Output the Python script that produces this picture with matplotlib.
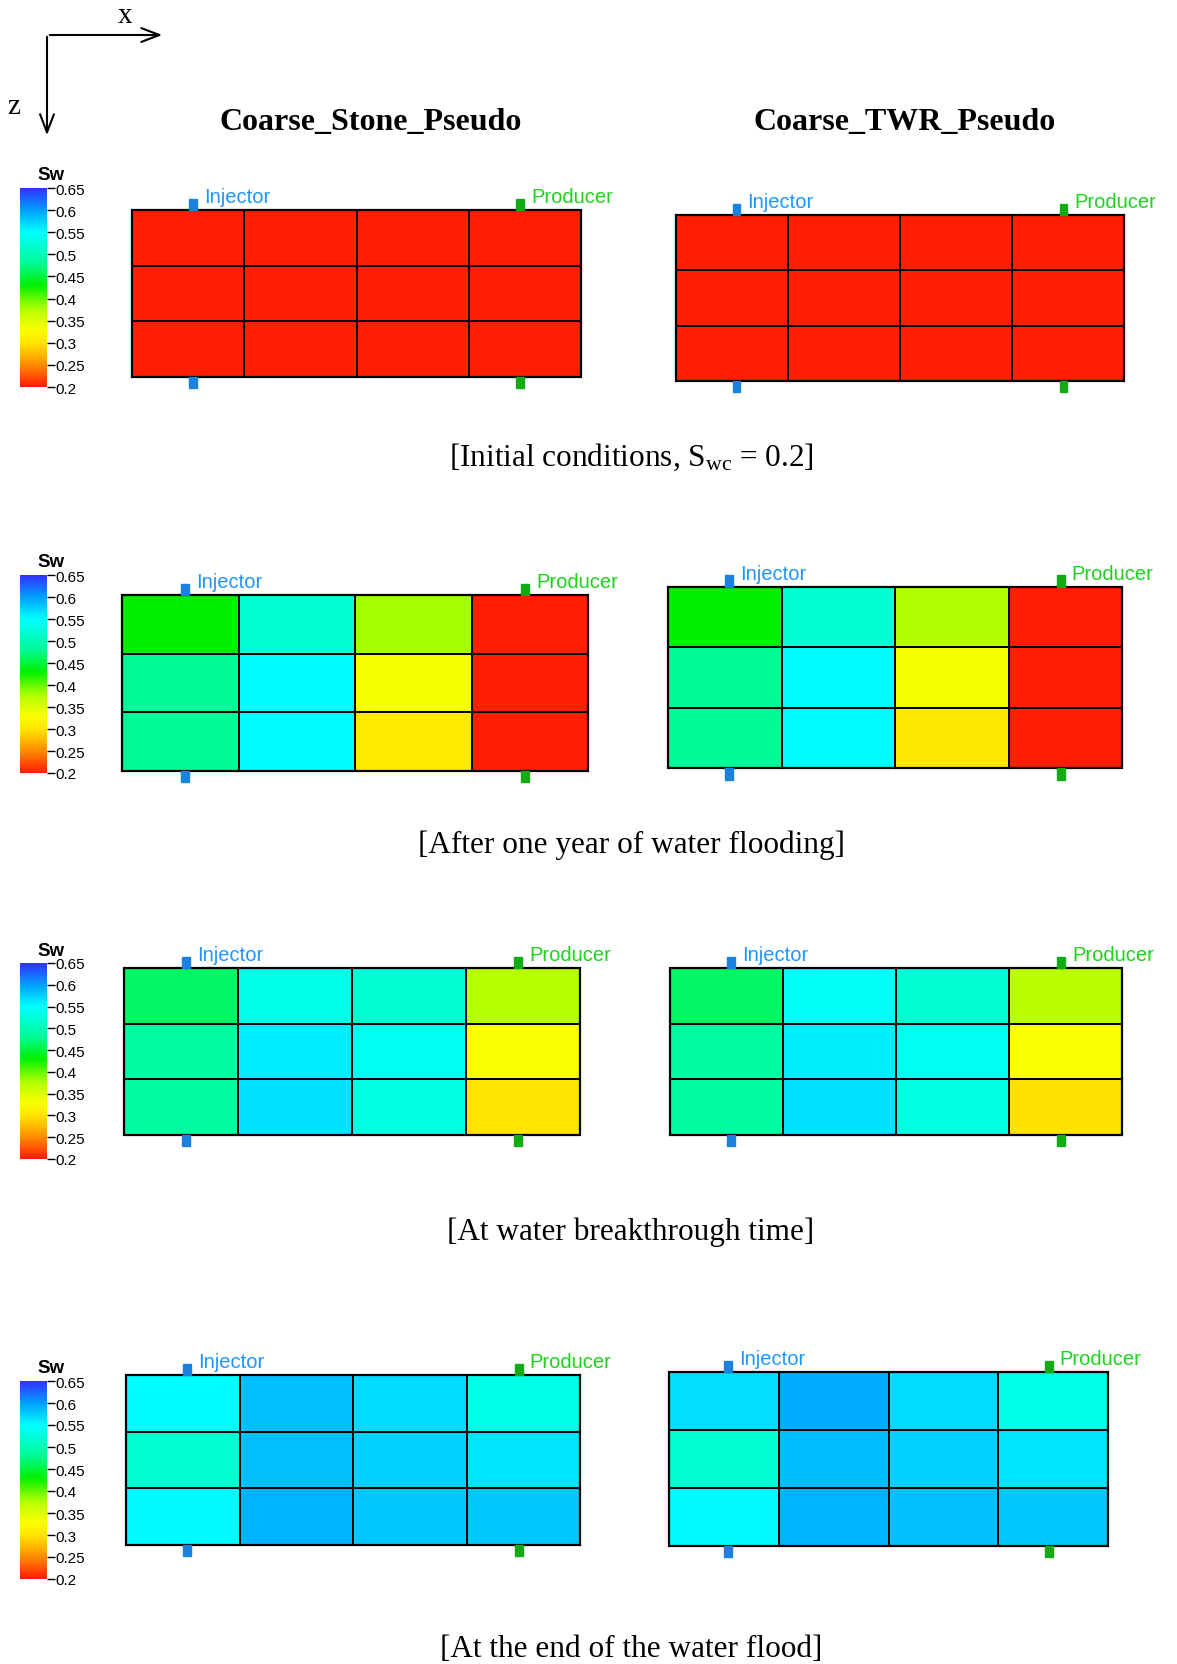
import numpy as np
import matplotlib
matplotlib.use("Agg")
import matplotlib.pyplot as plt
import matplotlib.transforms as mtransforms
from matplotlib.colors import LinearSegmentedColormap, Normalize
from matplotlib.cm import ScalarMappable
from matplotlib.patches import Rectangle

plt.rcParams['mathtext.fontset'] = 'custom'
plt.rcParams['mathtext.rm'] = 'Liberation Serif'

# ---- data: water saturation per cell (3 layers x 4 columns) ----
models = ["Coarse_Stone_Pseudo", "Coarse_TWR_Pseudo"]
stages = [r"[Initial conditions, $\mathrm{S_{wc}}$ = 0.2]",
          "[After one year of water flooding]",
          "[At water breakthrough time]",
          "[At the end of the water flood]"]

stone_initial = [[0.20, 0.20, 0.20, 0.20],
                 [0.20, 0.20, 0.20, 0.20],
                 [0.20, 0.20, 0.20, 0.20]]
twr_initial = [[0.20, 0.20, 0.20, 0.20],
               [0.20, 0.20, 0.20, 0.20],
               [0.20, 0.20, 0.20, 0.20]]

stone_year1 = [[0.430, 0.520, 0.380, 0.20],
               [0.480, 0.550, 0.335, 0.20],
               [0.480, 0.550, 0.305, 0.20]]
twr_year1 = [[0.430, 0.520, 0.377, 0.20],
             [0.480, 0.550, 0.335, 0.20],
             [0.480, 0.550, 0.302, 0.20]]

stone_breakthrough = [[0.463, 0.533, 0.520, 0.373],
                      [0.487, 0.560, 0.540, 0.330],
                      [0.487, 0.564, 0.530, 0.300]]
twr_breakthrough = [[0.463, 0.545, 0.520, 0.372],
                    [0.487, 0.558, 0.540, 0.330],
                    [0.487, 0.564, 0.530, 0.297]]

stone_end = [[0.550, 0.582, 0.568, 0.533],
             [0.520, 0.582, 0.574, 0.563],
             [0.553, 0.590, 0.579, 0.579]]
twr_end = [[0.566, 0.592, 0.568, 0.533],
           [0.520, 0.584, 0.574, 0.563],
           [0.553, 0.590, 0.582, 0.579]]

stone_maps = [stone_initial, stone_year1, stone_breakthrough, stone_end]
twr_maps = [twr_initial, twr_year1, twr_breakthrough, twr_end]

cbar_ticks = [0.2, 0.25, 0.3, 0.35, 0.4, 0.45, 0.5, 0.55, 0.6, 0.65]
cbar_labels = ["0.2", "0.25", "0.3", "0.35", "0.4", "0.45", "0.5", "0.55", "0.6", "0.65"]
well_names = ["Injector", "Producer"]
well_cols = [0.54, 3.46]   # well x positions in grid units

# tecplot-like rainbow
vmin, vmax = 0.2, 0.65
anchors = [(0.20, (255, 30, 0)), (0.25, (255, 140, 0)), (0.30, (255, 230, 0)),
           (0.33, (250, 255, 0)), (0.375, (180, 255, 0)), (0.43, (0, 240, 0)),
           (0.48, (0, 250, 150)), (0.55, (0, 255, 255)), (0.60, (0, 160, 255)),
           (0.65, (50, 50, 255))]
cmap = LinearSegmentedColormap.from_list(
    "sw", [((v - vmin) / (vmax - vmin), tuple(c / 255 for c in rgb)) for v, rgb in anchors])
norm = Normalize(vmin, vmax)

W, H = 1177, 1665
fig = plt.figure(figsize=(W / 100, H / 100), dpi=100)


def px_axes(x0, y0, x1, y1):
    return fig.add_axes([x0 / W, 1 - y1 / H, (x1 - x0) / W, (y1 - y0) / H])


# layout in pixels (top-left origin)
stone_boxes = [(132, 211, 581, 378), (122, 596, 588, 772), (124, 969, 580, 1136), (126, 1376, 580, 1546)]
twr_boxes = [(676, 216, 1124, 382), (668, 588, 1122, 769), (670, 969, 1122, 1136), (669, 1373, 1108, 1547)]
cbar_boxes = [(20, 189, 47, 388), (20, 576, 47, 774), (20, 964, 47, 1160), (20, 1382, 47, 1580)]
caption_y = [457, 845, 1232, 1650]

well_colors = ["#1a82dc", "#14aa14"]
label_colors = ["#1e96ff", "#1ed21e"]


def draw_grid(ax, sw):
    sw = np.array(sw)
    ax.pcolormesh(np.arange(5), np.arange(4), sw, cmap=cmap, norm=norm,
                  edgecolors="k", linewidth=1.3)
    ax.set_xlim(0, 4)
    ax.set_ylim(3, 0)
    ax.axis("off")
    ax.add_patch(Rectangle((0, 0), 4, 3, fill=False, ec="k", lw=1.6, clip_on=False))
    tr = mtransforms.blended_transform_factory(ax.transData, ax.transAxes)
    for name, xc, wc, lc in zip(well_names, well_cols, well_colors, label_colors):
        ax.add_patch(Rectangle((xc - 0.035, 1.0), 0.07, 0.065, transform=tr,
                               color=wc, clip_on=False, zorder=3))
        ax.add_patch(Rectangle((xc - 0.035, -0.065), 0.07, 0.065, transform=tr,
                               color=wc, clip_on=False, zorder=3))
        ax.annotate(name, xy=(xc, 1.0), xycoords=tr, xytext=(8, 3),
                    textcoords="offset points", ha="left", va="bottom",
                    color=lc, fontsize=14.5, family="Liberation Sans")


for i in range(4):
    draw_grid(px_axes(*stone_boxes[i]), stone_maps[i])
    draw_grid(px_axes(*twr_boxes[i]), twr_maps[i])

    cax = px_axes(*cbar_boxes[i])
    cb = fig.colorbar(ScalarMappable(norm=norm, cmap=cmap), cax=cax, ticks=cbar_ticks)
    cb.outline.set_visible(False)
    cb.ax.set_yticklabels(cbar_labels)
    cb.ax.tick_params(length=6, width=1, pad=0, labelsize=11)
    for t in cb.ax.get_yticklabels():
        t.set_family("Liberation Sans")
    x0, y0, x1, y1 = cbar_boxes[i]
    fig.text(51 / W, 1 - (y0 - 13) / H, "Sw", ha="center", va="center",
             fontsize=13.5, fontweight="bold", family="Liberation Sans")

    fig.text(631 / W, 1 - caption_y[i] / H, stages[i], ha="center", va="center",
             fontsize=22.5, family="Liberation Serif")

# column titles
fig.text(371 / W, 1 - 122 / H, models[0], ha="center", va="center",
         fontsize=23, fontweight="bold", family="Liberation Serif")
fig.text(905 / W, 1 - 122 / H, models[1], ha="center", va="center",
         fontsize=23, fontweight="bold", family="Liberation Serif")

# x / z orientation arrows
ov = fig.add_axes([0, 0, 1, 1], facecolor="none")
ov.set_xlim(0, W)
ov.set_ylim(H, 0)
ov.axis("off")
ov.annotate("", xy=(165, 36), xytext=(47, 36),
            arrowprops=dict(arrowstyle="->,head_length=1.3,head_width=0.5", lw=1.5, color="k"))
ov.annotate("", xy=(47, 139), xytext=(47, 35),
            arrowprops=dict(arrowstyle="->,head_length=1.3,head_width=0.5", lw=1.5, color="k"))
ov.text(125, 16, "x", ha="center", va="center", fontsize=21, family="Liberation Serif")
ov.text(14, 107, "z", ha="center", va="center", fontsize=21, family="Liberation Serif")

fig.savefig("out.png", dpi=100)
